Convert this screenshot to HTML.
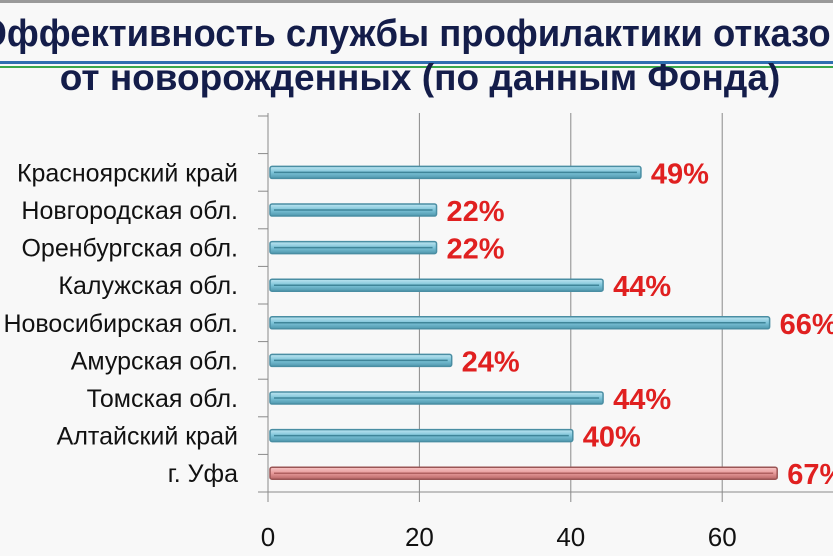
<!DOCTYPE html>
<html><head><meta charset="utf-8"><style>
html,body{margin:0;padding:0;background:#f8f8f8;width:833px;height:556px;overflow:hidden}
svg{display:block}
</style></head><body>
<svg width="833" height="556" viewBox="0 0 833 556">
<defs>
<linearGradient id="gb" x1="0" y1="0" x2="0" y2="1"><stop offset="0" stop-color="#bfe6f2"/><stop offset="0.5" stop-color="#7cc3d8"/><stop offset="1" stop-color="#4f97ad"/></linearGradient>
<linearGradient id="gr" x1="0" y1="0" x2="0" y2="1"><stop offset="0" stop-color="#f7c6c6"/><stop offset="0.5" stop-color="#e79a9a"/><stop offset="1" stop-color="#b86565"/></linearGradient>
</defs>
<rect x="0" y="0" width="833" height="3" fill="#9a9a9a"/>
<text x="417" y="46" text-anchor="middle" font-family="Liberation Sans, sans-serif" font-weight="bold" font-size="38" fill="#141d4a" transform="translate(417 0) scale(0.96 1) translate(-417 0)">Эффективность службы профилактики отказов</text>
<rect x="0" y="61" width="833" height="3" fill="#2f6fb0"/>
<rect x="0" y="66" width="833" height="2" fill="#3aa84a"/>
<text x="420" y="90" text-anchor="middle" font-family="Liberation Sans, sans-serif" font-weight="bold" font-size="37" fill="#141d4a">от новорожденных (по данным Фонда)</text>
<g id="plot"></g>
</svg>
<script>
const categories = ["", "Красноярский край", "Новгородская обл.", "Оренбургская обл.", "Калужская обл.", "Новосибирская обл.", "Амурская обл.", "Томская обл.", "Алтайский край", "г. Уфа"];
const values = [null, 49, 22, 22, 44, 66, 24, 44, 40, 67];
const valueLabels = ["", "49%", "22%", "22%", "44%", "66%", "24%", "44%", "40%", "67%"];
const xTicks = [0, 20, 40, 60, 80];
const highlight = [false, false, false, false, false, false, false, false, false, true];

const NS = "http://www.w3.org/2000/svg";
const g = document.getElementById("plot");
const x0 = 268, pxPerUnit = 7.57, yTop = 116, yBot = 492;
const slot = (yBot - yTop) / categories.length;
const xs = v => x0 + v * pxPerUnit;
const yc = i => yTop + slot * (i + 0.5);
function mk(tag, attrs){const e=document.createElementNS(NS,tag);for(const k in attrs)e.setAttribute(k,attrs[k]);g.appendChild(e);return e;}

xTicks.forEach(t=>{
  const x = xs(t);
  if (x > 833) return;
  const l = mk("line",{x1:x,y1:yTop-3,x2:x,y2:yBot+10,stroke:"#8a8a8a","stroke-width":1});
  
  
  const tx = mk("text",{x:x,y:546,"text-anchor":"middle","font-family":"Liberation Sans, sans-serif","font-size":26,fill:"#111"});
  tx.textContent = t;
  
  
});
const ax = mk("line",{x1:x0,y1:yTop,x2:x0,y2:yBot,stroke:"#8a8a8a","stroke-width":1});


const bx = mk("line",{x1:x0-10,y1:yBot,x2:833,y2:yBot,stroke:"#8a8a8a","stroke-width":1});


for(let i=0;i<categories.length;i++){
  const ty = yTop + slot*i;
  const tk = mk("line",{x1:x0-10,y1:ty,x2:x0,y2:ty,stroke:"#8a8a8a","stroke-width":1});
  
  
}
categories.forEach((c,i)=>{
  const y = yc(i);
  if (c) {
    const t = mk("text",{x:238,y:y+9,"text-anchor":"end","font-family":"Liberation Sans, sans-serif","font-size":25,fill:"#111"});
    t.textContent = c;
    
    
  }
  if (values[i] == null) return;
  const w = xs(values[i]) - x0;
  const hl = highlight[i];
  const r = mk("rect",{x:x0+2,y:y-6,width:w,height:12,fill:hl?"url(#gr)":"url(#gb)",stroke:hl?"#9a5555":"#4a8ea3","stroke-width":1.5,rx:2});
  
  
  const m = mk("line",{x1:x0+6,y1:y,x2:x0+w-2,y2:y,stroke:hl?"#b06060":"#3f8599","stroke-width":1.5});
  
  
  const vl = mk("text",{x:x0+w+12,y:y+11,"font-family":"Liberation Sans, sans-serif","font-weight":"bold","font-size":29,fill:"#e02020"});
  vl.textContent = valueLabels[i];
  
  
});
</script>
</body></html>
